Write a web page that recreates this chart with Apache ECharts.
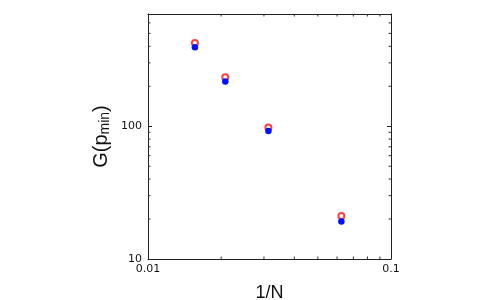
<!DOCTYPE html>
<html>
<head>
<meta charset="utf-8">
<script src="https://cdn.jsdelivr.net/npm/echarts@6/dist/echarts.min.js"></script>
<style>
  html, body { margin: 0; padding: 0; background: #fff; }
  #chart { width: 500px; height: 300px; }
</style>
</head>
<body>
<div id="chart"></div>
<script>
// 1/N values and G(p_min)
var invN = [0.0156, 0.0208, 0.0313, 0.0625];
var gOpen = [424, 234, 98, 21.1];
var gFilled = [393, 217, 92, 19.2];

var xRange = [0.01, 0.1];
var yRange = [10, 700];
var xMinor = [0.02, 0.03, 0.04, 0.05, 0.06, 0.07, 0.08, 0.09];
var yMinor = [20, 30, 40, 50, 60, 70, 80, 90, 200, 300, 400, 500, 600];

var myChart = echarts.init(document.getElementById('chart'));

function pairs(xs, ys) {
    var out = [];
    for (var i = 0; i < xs.length; i++) out.push([xs[i], ys[i]]);
    return out;
}

// minor ticks on all four sides, placed through the log scales
var minorData = [];
yMinor.forEach(function(v) {
    minorData.push([xRange[0], v, 0]);
    minorData.push([xRange[1], v, 1]);
});
xMinor.forEach(function(v) {
    minorData.push([v, yRange[0], 2]);
    minorData.push([v, yRange[1], 3]);
});

function powLabel(val) {
    var l = Math.log10(val);
    return Math.abs(l - Math.round(l)) < 1e-6 ? String(+val.toPrecision(3)) : '';
}

var axisLine = { show: true, lineStyle: { color: '#222', width: 1 } };
var labelFont = { fontFamily: 'DejaVu Sans', fontSize: 11, color: '#111' };

var option = {
    animation: false,
    grid: { left: 148, right: 109, top: 14, bottom: 41, outerBoundsMode: 'none', containLabel: false },
    xAxis: [
        {
            type: 'log', min: xRange[0], max: xRange[1],
            axisLine: axisLine,
            axisTick: { inside: true, length: 4, lineStyle: { color: '#222' } },
            splitLine: { show: false },
            axisLabel: Object.assign({ margin: 5, formatter: powLabel }, labelFont),
            name: '1/N', nameLocation: 'middle', nameGap: 25,
            nameTextStyle: { fontFamily: 'Liberation Sans', fontSize: 18, color: '#111' }
        },
        {
            type: 'log', min: xRange[0], max: xRange[1], position: 'top',
            axisLine: axisLine,
            axisTick: { inside: true, length: 4, lineStyle: { color: '#222' } },
            splitLine: { show: false },
            axisLabel: { show: false }
        }
    ],
    yAxis: [
        {
            type: 'log', min: yRange[0], max: yRange[1],
            axisLine: axisLine,
            axisTick: { inside: true, length: 4, lineStyle: { color: '#222' } },
            splitLine: { show: false },
            axisLabel: Object.assign({ margin: 6, formatter: powLabel }, labelFont),
            name: '{m|G(p}{s|min}{m|)}', nameLocation: 'middle', nameGap: 36,
            nameTextStyle: {
                rich: {
                    m: { fontFamily: 'Liberation Sans', fontSize: 20, color: '#111' },
                    s: { fontFamily: 'Liberation Sans', fontSize: 14, color: '#111', padding: [8, 0, 0, 0] }
                }
            }
        },
        {
            type: 'log', min: yRange[0], max: yRange[1], position: 'right',
            axisLine: axisLine,
            axisTick: { inside: true, length: 4, lineStyle: { color: '#222' } },
            splitLine: { show: false },
            axisLabel: { show: false }
        }
    ],
    series: [
        {
            type: 'custom',
            silent: true,
            clip: false,
            data: minorData,
            encode: { x: 0, y: 1 },
            renderItem: function(params, api) {
                var p = api.coord([api.value(0), api.value(1)]);
                var side = api.value(2);
                var len = 2.5;
                var s = { x1: p[0], y1: p[1], x2: p[0], y2: p[1] };
                if (side === 0) s.x2 = p[0] + len;
                else if (side === 1) s.x2 = p[0] - len;
                else if (side === 2) s.y2 = p[1] - len;
                else s.y2 = p[1] + len;
                return { type: 'line', shape: s, style: { stroke: '#333', lineWidth: 1 } };
            },
            z: 1
        },
        {
            name: 'open',
            type: 'scatter',
            data: pairs(invN, gOpen),
            symbol: 'emptyCircle',
            symbolSize: 6,
            itemStyle: { color: '#ff4040', borderColor: '#ff4040', borderWidth: 0.8, opacity: 1 },
            z: 3
        },
        {
            name: 'filled',
            type: 'scatter',
            data: pairs(invN, gFilled),
            symbol: 'circle',
            symbolSize: 6.5,
            itemStyle: { color: '#0010ff', opacity: 1 },
            z: 4
        }
    ]
};

myChart.setOption(option);
</script>
</body>
</html>
